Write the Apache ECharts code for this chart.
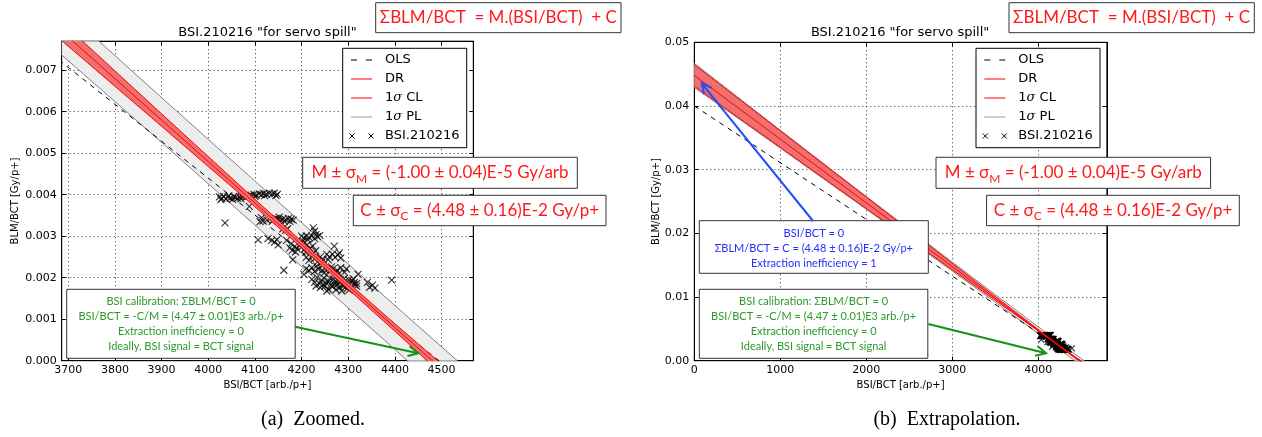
<!DOCTYPE html>
<html>
<head>
<meta charset="utf-8">
<script src="https://cdn.jsdelivr.net/npm/echarts@6/dist/echarts.min.js"></script>
<style>
html,body{margin:0;padding:0;background:#fff}
#main{width:1262px;height:437px}
</style>
</head>
<body>
<div id="main"></div>
<script>
// measured points BSI/BCT vs BLM/BCT
var bsiX = [4086,4092,4098,4103,4109,4114,4119,4125,4131,4137,4142,4148,4100,4121,4145,
  4024,4029,4033,4038,4042,4047,4052,4058,4063,4067,4072,4077,4081,4027,4044,4055,4070,
  4036,4088,
  4111,4117,4126,4133,4140,4145,4150,4155,4160,4166,4172,4178,4182,4114,4137,4152,4163,4175,
  4160,4166,4170,4225,4228,
  4107,4128,4136,4142,4147,4168,4200,4205,4210,4216,4222,4228,4234,4239,4150,4213,4231,4203,
  4175,4180,4185,4190,4195,4200,4206,4212,4218,4224,4230,4270,4178,4187,4198,4209,
  4181,4210,4216,4222,4228,4234,4240,4246,4254,4260,4266,4272,4278,4284,4225,4243,4257,4281,
  4162,4205,4210,4216,4222,4228,4236,4244,4252,4260,4268,4276,4284,4292,4321,4232,4248,4264,4280,4296,
  4222,4228,4233,4238,4243,4248,4253,4258,4263,4268,4273,4278,4283,4288,4293,4298,4303,4308,4313,4318,
  4231,4246,4261,4276,4291,4301,4311,
  4240,4250,4258,4266,4274,4282,4290,4298,4306,4314,4254,4270,4286,4302,4318,
  4346,4352,4357,4393,4341];
var blmY = [0.00397,0.00399,0.00401,0.00399,0.00402,0.00400,0.00403,0.00401,0.00404,0.00402,0.00404,0.00401,0.00396,0.00398,0.00398,
  0.00395,0.00391,0.00396,0.00390,0.00394,0.00392,0.00389,0.00393,0.00391,0.00395,0.00396,0.00398,0.00394,0.00388,0.00397,0.00396,0.00390,
  0.00332,0.00372,
  0.00335,0.00337,0.00339,0.00342,0.00340,0.00343,0.00341,0.00338,0.00342,0.00340,0.00343,0.00341,0.00339,0.00345,0.00336,0.00346,0.00336,0.00336,
  0.00318,0.00314,0.00318,0.00320,0.00312,
  0.00291,0.00294,0.00290,0.00286,0.00292,0.00290,0.00300,0.00296,0.00301,0.00297,0.00300,0.00294,0.00299,0.00302,0.00279,0.00292,0.00304,0.00288,
  0.00272,0.00266,0.00275,0.00270,0.00278,0.00274,0.00268,0.00280,0.00271,0.00276,0.00265,0.00276,0.00282,0.00262,0.00283,0.00261,
  0.00243,0.00249,0.00242,0.00252,0.00246,0.00238,0.00250,0.00244,0.00256,0.00250,0.00257,0.00249,0.00255,0.00247,0.00258,0.00237,0.00243,0.00260,
  0.00218,0.00208,0.00222,0.00217,0.00224,0.00215,0.00220,0.00218,0.00221,0.00216,0.00222,0.00218,0.00224,0.00213,0.00208,0.00228,0.00211,0.00226,0.00210,0.00221,
  0.00196,0.00189,0.00201,0.00185,0.00194,0.00199,0.00187,0.00192,0.00183,0.00197,0.00190,0.00186,0.00195,0.00181,0.00192,0.00187,0.00184,0.00193,0.00188,0.00179,
  0.00180,0.00183,0.00199,0.00182,0.00198,0.00195,0.00197,
  0.00176,0.00180,0.00172,0.00178,0.00171,0.00176,0.00180,0.00174,0.00178,0.00183,0.00168,0.00184,0.00168,0.00170,0.00186,
  0.00177,0.00182,0.00175,0.00194,0.00189];

// fitted lines (end points)
var lineX = [0, 4800];
var drY = [0.0448, -0.0032];
var olsY = [0.0400, -0.00272];

// 1 sigma confidence / prediction limits
var bandX = [0,1000,2000,3000,3500,3700,3900,4100,4230,4400,4600,4800];
var clUp = [0.0465,0.0361,0.0257,0.0153,0.0101,0.00802,0.00595,0.00389,0.00257,0.00089,-0.00105,-0.00297];
var clLo = [0.0431,0.0335,0.0239,0.0143,0.0095,0.00758,0.00565,0.00371,0.00243,0.00071,-0.00135,-0.00343];
var plUp = [0.0467,0.0362,0.0258,0.0155,0.01039,0.00837,0.00634,0.00433,0.00303,0.00133,-0.00066,-0.00264];
var plLo = [0.0429,0.0334,0.0238,0.0141,0.00921,0.00723,0.00526,0.00327,0.00197,0.00027,-0.00174,-0.00376];

var TICKF = 'DejaVu Sans';
var BOXF = 'Lato';

function pts(xs, ys){ return xs.map(function(x,i){ return [x, ys[i]]; }); }

var chart = echarts.init(document.getElementById('main'));

function xAx(g, min, max, step, pos, showMin){
  var main = pos === 'bottom';
  return {
    type:'value', gridIndex:g, position:pos, min:min, max:max,
    minInterval:step, maxInterval:step, splitNumber:9,
    axisLine:{show:true, onZero:false, lineStyle:{color:'#000', width:1}},
    axisTick:{show:true, inside:true, length:4, lineStyle:{color:'#000'}},
    axisLabel:{show:main, showMinLabel:showMin, showMaxLabel:false, margin:4,
      color:'#000', fontFamily:TICKF, fontSize:11, formatter:function(v){ return String(v); }},
    splitLine:{show:main, lineStyle:{color:'#333', width:1, type:[1,3]}},
    name: main ? 'BSI/BCT [arb./p+]' : '', nameLocation:'middle', nameGap:18,
    nameTextStyle:{color:'#000', fontFamily:TICKF, fontSize:10}
  };
}
function yAx(g, max, step, dec, pos, gap){
  var main = pos === 'left';
  return {
    type:'value', gridIndex:g, position:pos, min:0, max:max, interval:step,
    axisLine:{show:true, onZero:false, lineStyle:{color:'#000', width:1}},
    axisTick:{show:true, inside:true, length:4, lineStyle:{color:'#000'}},
    axisLabel:{show:main, showMaxLabel: dec === 2, margin:5, color:'#000', fontFamily:TICKF, fontSize:11,
      formatter:function(v){ return v.toFixed(dec); }},
    splitLine:{show:main, lineStyle:{color:'#333', width:1, type:[1,3]}},
    name: main ? 'BLM/BCT [Gy/p+]' : '', nameLocation:'middle', nameGap:gap,
    nameTextStyle:{color:'#000', fontFamily:TICKF, fontSize:10}
  };
}

// filled region between two limit curves, clipped to the plot area
function bandFill(g, up, lo, fill, z){
  return {
    type:'custom', xAxisIndex:g, yAxisIndex:g, z:z, silent:true, data:[[4200, 0.003]],
    renderItem:function(params, api){
      var p = [], i;
      for (i = 0; i < bandX.length; i++) p.push(api.coord([bandX[i], up[i]]));
      for (i = bandX.length - 1; i >= 0; i--) p.push(api.coord([bandX[i], lo[i]]));
      var cs = params.coordSys;
      return {type:'polygon', shape:{points:p}, style:{fill:fill},
              clipPath:{type:'rect', shape:{x:cs.x, y:cs.y, width:cs.width, height:cs.height}}};
    }
  };
}

function panelSeries(g, sz){
  var base = {xAxisIndex:g, yAxisIndex:g, symbol:'none', silent:true, clip:true};
  function s(o){ return Object.assign({}, base, o); }
  return [
    bandFill(g, plUp, plLo, '#ededed', 1),
    s({type:'line', data:pts(bandX, plUp), z:1, lineStyle:{color:'#808080', width:1}}),
    s({type:'line', data:pts(bandX, plLo), z:1, lineStyle:{color:'#808080', width:1}}),
    s({type:'scatter', data:pts(bsiX, blmY), symbol:'path://M0,0L10,10M10,0L0,10', symbolSize:sz, z:2,
       itemStyle:{color:'#000', borderColor:'#000', borderWidth:1.1}}),
    s({type:'line', data:pts(lineX, olsY), z:3, lineStyle:{color:'#000', width:1, type:[5,5]}}),
    bandFill(g, clUp, clLo, '#f07070', 4),
    s({type:'line', data:pts(bandX, clUp), z:4, lineStyle:{color:'#ff0000', width:1}}),
    s({type:'line', data:pts(bandX, clLo), z:4, lineStyle:{color:'#ff0000', width:1}}),
    s({type:'line', data:pts(lineX, drY), z:5, lineStyle:{color:'#ff0000', width:1}})
  ];
}

function txt(x, y, text, font, color, extra){
  var st = {text:text, x:0, y:0, font:font, fill:color, align:'center', verticalAlign:'middle',
            textAlign:'center', textVerticalAlign:'middle'};
  Object.assign(st, extra || {});
  return {type:'text', x:x, y:y, z:100, style:st};
}
function rect(x, y, w, h, stroke){
  return {type:'rect', z:99, shape:{x:x, y:y, width:w, height:h},
          style:{fill:'#fff', stroke:stroke, lineWidth:1}};
}
function seg(x1, y1, x2, y2, color, w, dash){
  return {type:'line', z:100, shape:{x1:x1, y1:y1, x2:x2, y2:y2},
          style:{stroke:color, lineWidth:w, lineDash:dash || null}};
}
function arrow(x1, y1, x2, y2, color){
  var dx = x2 - x1, dy = y2 - y1, L = Math.sqrt(dx*dx + dy*dy);
  var ux = dx/L, uy = dy/L, bx = x2 - 10*ux, by = y2 - 10*uy;
  return [
    seg(x1, y1, x2, y2, color, 2),
    {type:'polyline', z:101, shape:{points:[[bx - 5*uy, by + 5*ux], [x2, y2], [bx + 5*uy, by - 5*ux]]},
     style:{stroke:color, lineWidth:2, fill:null}}
  ];
}
function cross(x, y){
  return [seg(x-2.5, y-2.5, x+2.5, y+2.5, '#000', 1), seg(x-2.5, y+2.5, x+2.5, y-2.5, '#000', 1)];
}

var red = '#ff1a1a';
var subRich = {
  t:{fill:red, fontFamily:BOXF, fontSize:17, lineHeight:24},
  s:{fill:red, fontFamily:BOXF, fontSize:12, lineHeight:24, verticalAlign:'bottom'}
};

function overlay(ox, gx){
  var els = [];
  var lf = '13px "' + TICKF + '"';
  // title
  els.push(txt(267.5 + gx, 33, 'BSI.210216 "for servo spill"', '13px "' + TICKF + '"', '#000'));
  // legend
  els.push(rect(342.7 + ox, 48.3, 124, 99.4, '#000'));
  var lx = 351 + ox, tx = 385 + ox;
  els.push(seg(lx, 60, lx + 21, 60, '#000', 1, [6, 9]));
  els.push(seg(lx, 79, lx + 21, 79, '#ff0000', 1));
  els.push(seg(lx, 98, lx + 21, 98, '#ff0000', 1));
  els.push(seg(lx, 117, lx + 21, 117, '#999', 1));
  els = els.concat(cross(lx + 1, 136), cross(lx + 20, 136));
  var legOpts = {align:'left', textAlign:'left'};
  els.push(txt(tx, 60, 'OLS', lf, '#000', legOpts));
  els.push(txt(tx, 79, 'DR', lf, '#000', legOpts));
  var sig = {align:'left', textAlign:'left', rich:{
    n:{fill:'#000', fontFamily:TICKF, fontSize:13},
    i:{fill:'#000', fontFamily:'DejaVu Serif', fontSize:13, fontStyle:'italic'}}};
  els.push(txt(tx, 98, '{n|1}{i|σ}{n| CL}', lf, '#000', sig));
  els.push(txt(tx, 117, '{n|1}{i|σ}{n| PL}', lf, '#000', sig));
  els.push(txt(tx, 136, 'BSI.210216', lf, '#000', legOpts));
  // red formula boxes
  els.push(rect(375.7 + ox, 2.7, 245.3, 30, '#333'));
  els.push(txt(498.3 + ox, 17.7, 'ΣBLM/BCT  = M.(BSI/BCT)  + C', '17px ' + BOXF, red));
  els.push(rect(302.7 + ox, 157.3, 274.6, 31, '#333'));
  els.push(txt(440 + ox, 172.8, '{t|M ± σ}{s|M}{t| = (-1.00 ± 0.04)E-5 Gy/arb}', '17px ' + BOXF, red, {rich:subRich}));
  els.push(rect(353.3 + ox, 195.3, 252.7, 30.4, '#333'));
  els.push(txt(479.7 + ox, 210.5, '{t|C ± σ}{s|C}{t| = (4.48 ± 0.16)E-2 Gy/p+}', '17px ' + BOXF, red, {rich:subRich}));
  // green calibration box
  els.push(rect(66.7 + gx, 289.3, 228.5, 69, '#333'));
  els.push(txt(181 + gx, 324.3,
    'BSI calibration: ΣBLM/BCT = 0\nBSI/BCT = -C/M = (4.47 ± 0.01)E3 arb./p+\nExtraction inefficiency = 0\nIdeally, BSI signal = BCT signal',
    '11px ' + BOXF, '#2a9a2a', {lineHeight:15}));
  return els;
}

var graphics = [].concat(
  overlay(0, 0),
  overlay(633.3, 632.6),
  arrow(295, 326.7, 418.3, 353.3, '#159015'),
  arrow(928.3, 324, 1046, 353.3, '#159015'),
  arrow(813, 221, 701.7, 83.3, '#1e4fff'),
  [rect(699.3, 220.7, 229, 52.6, '#333'),
   txt(813.8, 248.3, 'BSI/BCT = 0\nΣBLM/BCT = C = (4.48 ± 0.16)E-2 Gy/p+\nExtraction inefficiency = 1',
       '11px ' + BOXF, '#2b2bff', {lineHeight:15}),
   txt(313, 420, '(a)  Zoomed.', '20px "Liberation Serif"', '#000'),
   txt(947, 420, '(b)  Extrapolation.', '20px "Liberation Serif"', '#000')]
);

var option = {
  animation:false,
  backgroundColor:'#fff',
  grid:[
    {left:61.7, top:41.2, width:411.6, height:319.5, show:true, borderColor:'#000', borderWidth:1, backgroundColor:'#fff'},
    {left:694.3, top:42.3, width:412.6, height:318.4, show:true, borderColor:'#000', borderWidth:1, backgroundColor:'#fff'}
  ],
  xAxis:[
    xAx(0, 3686, 4568, 100, 'bottom', false),
    xAx(0, 3686, 4568, 100, 'top', false),
    xAx(1, 0, 4800, 1000, 'bottom', true),
    xAx(1, 0, 4800, 1000, 'top', true)
  ],
  yAxis:[
    yAx(0, 0.0077, 0.001, 3, 'left', 41),
    yAx(0, 0.0077, 0.001, 3, 'right', 0),
    yAx(1, 0.05, 0.01, 2, 'left', 33),
    yAx(1, 0.05, 0.01, 2, 'right', 0)
  ],
  series:[].concat(panelSeries(0, 7), panelSeries(2, 6)),
  graphic:{elements:graphics}
};
chart.setOption(option);
</script>
</body>
</html>
